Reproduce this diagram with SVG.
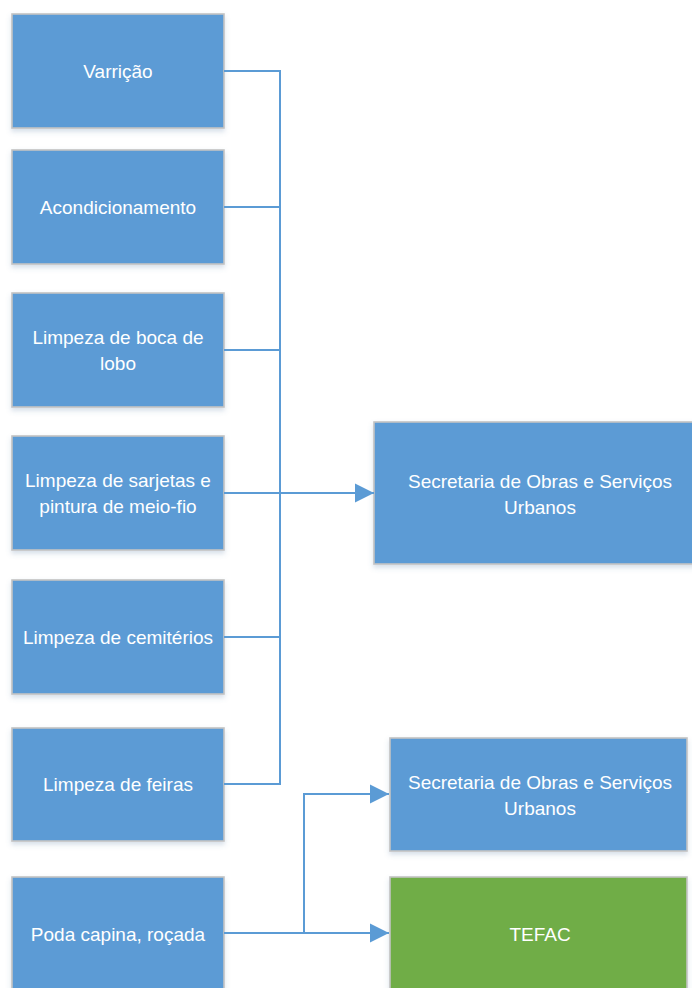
<svg xmlns="http://www.w3.org/2000/svg" width="692" height="988" viewBox="0 0 692 988">
<defs>
<style>
.box{fill:#5b9bd5;stroke:#c3c3c3;stroke-width:1.6;filter:url(#sh)}
.green{fill:#70ad47;stroke:#c3c3c3;stroke-width:1.6;filter:url(#sh)}
.t{font-family:"Liberation Sans",Arial,sans-serif;font-size:19px;fill:#ffffff;text-anchor:middle}
.c{fill:none;stroke:#5b9bd5;stroke-width:2}
</style>
<filter id="sh" x="-10%" y="-10%" width="120%" height="130%">
<feDropShadow dx="0" dy="3" stdDeviation="2.5" flood-color="#5b7fa8" flood-opacity="0.25"/>
</filter>
<marker id="ah" markerWidth="20" markerHeight="20" refX="19" refY="10" orient="auto" markerUnits="userSpaceOnUse">
<path d="M0,0.5 L19,10 L0,19.5 Z" fill="#5b9bd5"/>
</marker>
</defs>
<g id="n1"><rect class="box" x="12" y="14" width="212" height="114"/><text class="t" x="118" y="78">Varrição</text></g>
<g id="n2"><rect class="box" x="12" y="150" width="212" height="114"/><text class="t" x="118" y="214">Acondicionamento</text></g>
<g id="n3"><rect class="box" x="12" y="293" width="212" height="114"/><text class="t" x="118" y="344">Limpeza de boca de</text><text class="t" x="118" y="370">lobo</text></g>
<g id="n4"><rect class="box" x="12" y="436" width="212" height="114"/><text class="t" x="118" y="487">Limpeza de sarjetas e</text><text class="t" x="118" y="513">pintura de meio-fio</text></g>
<g id="n5"><rect class="box" x="12" y="580" width="212" height="114"/><text class="t" x="118" y="644">Limpeza de cemitérios</text></g>
<g id="n6"><rect class="box" x="12" y="728" width="212" height="113"/><text class="t" x="118" y="791">Limpeza de feiras</text></g>
<g id="n7"><rect class="box" x="12" y="877" width="212" height="114"/><text class="t" x="118" y="941">Poda capina, roçada</text></g>
<g id="n8"><rect class="box" x="374" y="422" width="322" height="142"/><text class="t" x="540" y="488">Secretaria de Obras e Serviços</text><text class="t" x="540" y="514">Urbanos</text></g>
<g id="n9"><rect class="box" x="390" y="738" width="297" height="113"/><text class="t" x="540" y="789">Secretaria de Obras e Serviços</text><text class="t" x="540" y="815">Urbanos</text></g>
<g id="n10"><rect class="green" x="390" y="877" width="297" height="114"/><text class="t" x="540" y="941">TEFAC</text></g>
<g id="connectors">
<path class="c" d="M224,71 H280 V784 H224"/>
<path class="c" d="M224,207 H280"/>
<path class="c" d="M224,350 H280"/>
<path class="c" d="M224,637 H280"/>
<path class="c" d="M224,493 H374" marker-end="url(#ah)"/>
<path class="c" d="M224,933 H389" marker-end="url(#ah)"/>
<path class="c" d="M304,933 V794 H389" marker-end="url(#ah)"/>
</g>
</svg>
